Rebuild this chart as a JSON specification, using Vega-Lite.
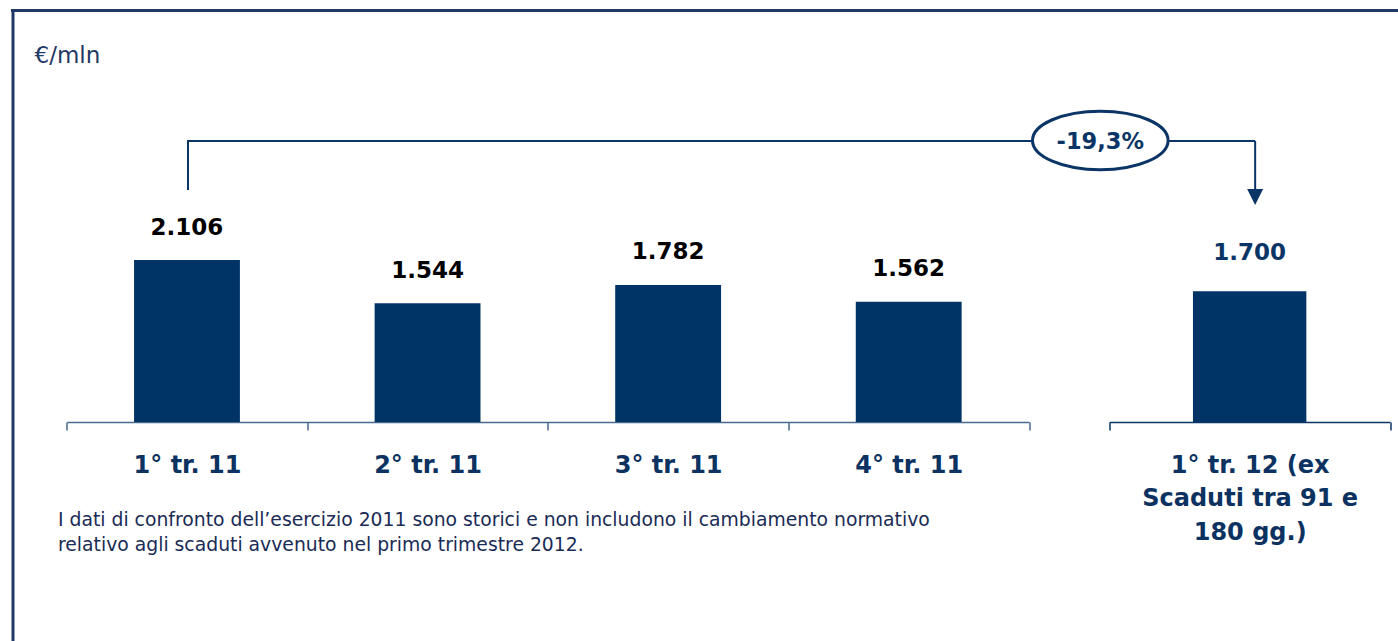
{
  "$schema": "https://vega.github.io/schema/vega-lite/v6.json",
  "width": 1385.5,
  "height": 630.5,
  "autosize": {"type": "none"},
  "padding": {"left": 12.5, "top": 10.5, "right": 0, "bottom": 0},
  "background": "white",
  "config": {
    "view": {"stroke": null},
    "font": "DejaVu Sans",
    "locale": {"number": {"decimal": ",", "thousands": ".", "grouping": [3], "currency": ["€", ""]}}
  },
  "datasets": {
    "trimestri2011": [
      {"periodo": "1° tr. 11", "valore": 2106},
      {"periodo": "2° tr. 11", "valore": 1544},
      {"periodo": "3° tr. 11", "valore": 1782},
      {"periodo": "4° tr. 11", "valore": 1562}
    ],
    "trimestri2012": [
      {"periodo": "1° tr. 12 (ex Scaduti tra 91 e 180 gg.)", "valore": 1700}
    ],
    "confronto2011": [
      {"periodo": "1° tr. 11", "periodo_fine": "4° tr. 11"}
    ],
    "confronto2012": [
      {"periodo": "1° tr. 12 (ex Scaduti tra 91 e 180 gg.)", "variazione": "-19,3%"}
    ]
  },
  "layer": [
    {
      "data": {"name": "trimestri2011"},
      "encoding": {
        "x": {
          "field": "periodo", "type": "nominal", "sort": null,
          "scale": {"type": "band", "domain": ["1° tr. 11", "2° tr. 11", "3° tr. 11", "4° tr. 11"], "range": [54.2, 1016.5], "paddingInner": 0, "paddingOuter": 0},
          "axis": {
            "orient": "bottom", "offset": -219, "title": null, "tickBand": "extent",
            "domainColor": "#4a6a91", "domainWidth": 1.5, "tickColor": "#4a6a91", "tickWidth": 1.5, "tickSize": 8,
            "labelFont": "DejaVu Sans", "labelFontSize": 24, "labelFontWeight": "bold", "labelColor": "#0c3261",
            "labelPadding": 42, "labelBaseline": "alphabetic", "labelAngle": 0, "labelLimit": 0, "labelOverlap": false, "grid": false
          }
        }
      },
      "layer": [
        {
          "mark": {"type": "bar", "width": {"band": 0.44}, "color": "#003366"},
          "encoding": {
            "y": {
              "field": "valore", "type": "quantitative",
              "scale": {"domain": [-2847, 5349.5], "nice": false, "zero": false},
              "axis": {
                "orient": "left", "title": "€/mln", "titleX": 21.5, "titleY": 51.5, "titleAngle": 0, "titleAlign": "left", "titleBaseline": "alphabetic",
                "titleFont": "DejaVu Sans", "titleFontSize": 23, "titleFontWeight": "normal", "titleColor": "#1f3864",
                "labels": false, "ticks": false, "grid": false, "domain": true, "domainColor": "#1f3864", "domainWidth": 3
              }
            }
          }
        },
        {
          "mark": {"type": "text", "dy": -25.5, "baseline": "alphabetic", "font": "DejaVu Sans", "fontSize": 23, "fontWeight": "bold", "color": "#000000"},
          "encoding": {
            "y": {"field": "valore", "type": "quantitative", "scale": {"domain": [-2847, 5349.5], "nice": false, "zero": false}},
            "text": {"field": "valore", "type": "quantitative", "format": ",d"}
          }
        },
        {
          "data": {"name": "confronto2011"},
          "mark": {"type": "rule", "color": "#0b3566", "strokeWidth": 2, "xOffset": 1},
          "encoding": {
            "y": {"datum": 3016, "type": "quantitative", "scale": {"domain": [-2847, 5349.5], "nice": false, "zero": false}},
            "y2": {"datum": 3653}
          }
        },
        {
          "data": {"name": "confronto2011"},
          "mark": {"type": "rule", "color": "#0b3566", "strokeWidth": 2, "x2Offset": 8},
          "encoding": {
            "x2": {"field": "periodo_fine", "bandPosition": 1},
            "y": {"datum": 3653, "type": "quantitative", "scale": {"domain": [-2847, 5349.5], "nice": false, "zero": false}}
          }
        },
        {
          "data": {"values": [{}]},
          "mark": {
            "type": "text",
            "text": ["I dati di confronto dell’esercizio 2011 sono storici e non includono il cambiamento normativo", "relativo agli scaduti avvenuto nel primo trimestre 2012."],
            "align": "left", "baseline": "alphabetic", "font": "DejaVu Sans", "fontSize": 18.8, "lineHeight": 24.5, "color": "#1a2b55", "dx": -8.7
          },
          "encoding": {
            "x": {"datum": "1° tr. 11", "bandPosition": 0},
            "y": {"datum": -1352, "type": "quantitative", "scale": {"domain": [-2847, 5349.5], "nice": false, "zero": false}}
          }
        }
      ]
    },
    {
      "data": {"name": "trimestri2012"},
      "encoding": {
        "x": {
          "field": "periodo", "type": "nominal",
          "scale": {"type": "band", "domain": ["1° tr. 12 (ex Scaduti tra 91 e 180 gg.)"], "range": [1096.8, 1377.5], "paddingInner": 0, "paddingOuter": 0},
          "axis": {
            "orient": "bottom", "offset": -219, "title": null, "tickBand": "extent",
            "domainColor": "#0b3566", "domainWidth": 1.5, "tickColor": "#0b3566", "tickWidth": 1.5, "tickSize": 8,
            "labelFont": "DejaVu Sans", "labelFontSize": 24, "labelFontWeight": "bold", "labelColor": "#0c3261",
            "labelPadding": 42, "labelBaseline": "alphabetic", "labelAngle": 0, "labelLimit": 0, "labelOverlap": false, "labelLineHeight": 33.5,
            "labelExpr": "[slice(datum.label, 0, 13), slice(datum.label, 14, 30), slice(datum.label, 31)]", "grid": false
          }
        }
      },
      "layer": [
        {
          "mark": {"type": "bar", "width": {"band": 0.404}, "color": "#003366"},
          "encoding": {
            "y": {"field": "valore", "type": "quantitative", "scale": {"domain": [-2847, 5349.5], "nice": false, "zero": false}}
          }
        },
        {
          "mark": {"type": "text", "dy": -31.5, "baseline": "alphabetic", "font": "DejaVu Sans", "fontSize": 23, "fontWeight": "bold", "color": "#0b3566"},
          "encoding": {
            "y": {"field": "valore", "type": "quantitative", "scale": {"domain": [-2847, 5349.5], "nice": false, "zero": false}},
            "text": {"field": "valore", "type": "quantitative", "format": ",d"}
          }
        },
        {
          "data": {"name": "confronto2012"},
          "mark": {"type": "rule", "color": "#0b3566", "strokeWidth": 2, "x2Offset": 5.5},
          "encoding": {
            "x": {"field": "periodo", "type": "nominal", "bandPosition": 0},
            "x2": {"field": "periodo", "bandPosition": 0.5},
            "y": {"datum": 3653, "type": "quantitative", "scale": {"domain": [-2847, 5349.5], "nice": false, "zero": false}}
          }
        },
        {
          "data": {"name": "confronto2012"},
          "mark": {"type": "rule", "color": "#0b3566", "strokeWidth": 2, "xOffset": 5.5},
          "encoding": {
            "y": {"datum": 3653, "type": "quantitative", "scale": {"domain": [-2847, 5349.5], "nice": false, "zero": false}},
            "y2": {"datum": 3029}
          }
        },
        {
          "data": {"name": "confronto2012"},
          "mark": {"type": "point", "shape": "M-1,-1L1,-1L0,1Z", "size": 256, "filled": true, "color": "#0b3566", "opacity": 1, "strokeWidth": 0, "xOffset": 5.5},
          "encoding": {
            "y": {"datum": 2925, "type": "quantitative", "scale": {"domain": [-2847, 5349.5], "nice": false, "zero": false}}
          }
        },
        {
          "data": {"name": "confronto2012"},
          "mark": {
            "type": "point",
            "shape": "M-1,0C-1,-0.2386,-0.5523,-0.432,0,-0.432C0.5523,-0.432,1,-0.2386,1,0C1,0.2386,0.5523,0.432,0,0.432C-0.5523,0.432,-1,0.2386,-1,0Z",
            "size": 18387, "fill": "#ffffff", "stroke": "#0b3566", "strokeWidth": 3, "opacity": 1, "fillOpacity": 1, "strokeOpacity": 1, "xOffset": -9
          },
          "encoding": {
            "x": {"field": "periodo", "type": "nominal", "bandPosition": 0},
            "y": {"datum": 3660, "type": "quantitative", "scale": {"domain": [-2847, 5349.5], "nice": false, "zero": false}}
          }
        },
        {
          "data": {"name": "confronto2012"},
          "mark": {"type": "text", "baseline": "middle", "dy": 1, "dx": -9, "font": "DejaVu Sans", "fontSize": 22.5, "fontWeight": "bold", "color": "#0b3566"},
          "encoding": {
            "x": {"field": "periodo", "type": "nominal", "bandPosition": 0},
            "y": {"datum": 3653, "type": "quantitative", "scale": {"domain": [-2847, 5349.5], "nice": false, "zero": false}},
            "text": {"field": "variazione", "type": "nominal"}
          }
        }
      ]
    },
    {
      "data": {"values": [{}]},
      "mark": {"type": "rule", "color": "#1f3864", "strokeWidth": 3, "strokeCap": "square"},
      "encoding": {
        "y": {"datum": 5349.5, "type": "quantitative", "scale": {"domain": [-2847, 5349.5], "nice": false, "zero": false}}
      }
    }
  ],
  "resolve": {"scale": {"x": "independent"}, "axis": {"x": "independent"}}
}
